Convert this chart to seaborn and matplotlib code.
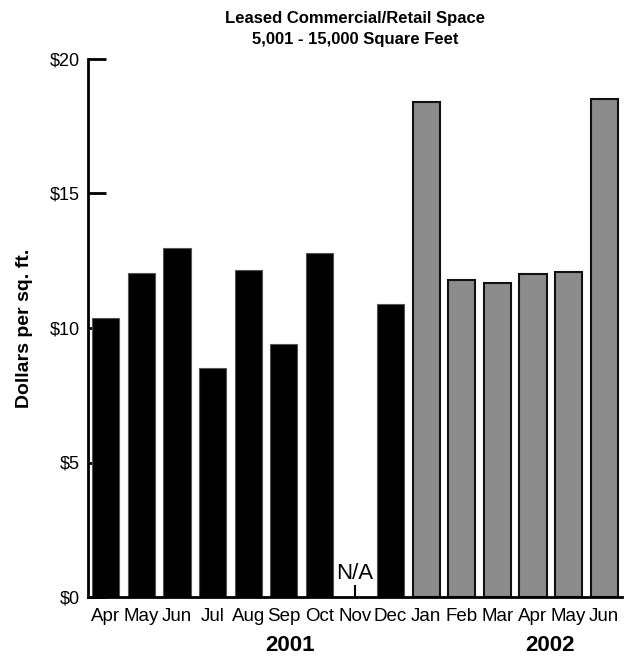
import numpy as np
import pandas as pd
import matplotlib
matplotlib.use("Agg")
import matplotlib.pyplot as plt
import seaborn as sns

months = ["Apr", "May", "Jun", "Jul", "Aug", "Sep", "Oct", "Nov", "Dec",
          "Jan", "Feb", "Mar", "Apr", "May", "Jun"]
years = ["2001"] * 9 + ["2002"] * 6
values = [10.37, 12.04, 12.98, 8.53, 12.14, 9.40, 12.80, np.nan, 10.88,
          18.40, 11.78, 11.68, 12.02, 12.10, 18.50]
title = "Leased Commercial/Retail Space\n5,001 - 15,000 Square Feet"
ylabel = "Dollars per sq. ft."

sns.set_theme(style="white")
plt.rcParams["font.family"] = ["Liberation Sans Narrow", "Liberation Sans", "DejaVu Sans"]
for k in ["text.color", "axes.labelcolor", "xtick.color", "ytick.color"]:
    plt.rcParams[k] = "black"

df = pd.DataFrame({"key": [f"{m} {y}" for m, y in zip(months, years)],
                   "value": values, "year": years})

fig = plt.figure(figsize=(6.36, 6.6), dpi=100)
ax = fig.add_axes([88/636, 63/660, (622-88)/636, (597-59)/660])

sns.barplot(data=df, x="key", y="value", hue="year", dodge=False,
            palette={"2001": "#000000", "2002": "#8c8c8c"},
            width=0.76, ax=ax, legend=False, saturation=1)
for p in ax.patches:
    fc = p.get_facecolor()
    if fc[0] > 0.2:
        p.set_edgecolor("#111111")
        p.set_linewidth(1.5)
    else:
        p.set_edgecolor("#555555")
        p.set_linewidth(0.8)

ax.set_xlim(-0.5, 14.5)
ax.set_ylim(0, 20)
ax.set_yticks([0, 5, 10, 15, 20])
ax.set_yticklabels(["$0", "$5", "$10", "$15", "$20"], fontsize=13)
ax.set_xticks(range(len(months)))
ax.set_xticklabels(months, fontsize=13.5)
ax.tick_params(axis="y", direction="in", length=13, width=2, pad=6, left=True)
ax.tick_params(axis="x", direction="in", length=9, width=1.5, pad=8, bottom=True)
for s in ["top", "right"]:
    ax.spines[s].set_visible(False)
for s in ["left", "bottom"]:
    ax.spines[s].set_color("black")
    ax.spines[s].set_linewidth(2)
ax.set_xlabel("")
ax.set_ylabel(ylabel, fontsize=14, fontweight="bold", labelpad=12)
ax.set_title(title, fontsize=12, fontweight="bold", pad=11, linespacing=1.45)

ax.text(7, 0.5, "N/A", ha="center", va="bottom", fontsize=16)
ax.text(5.17, -1.8, "2001", ha="center", va="center", fontsize=16, fontweight="bold")
ax.text(12.47, -1.8, "2002", ha="center", va="center", fontsize=16, fontweight="bold")

fig.savefig("out.png", dpi=100)
